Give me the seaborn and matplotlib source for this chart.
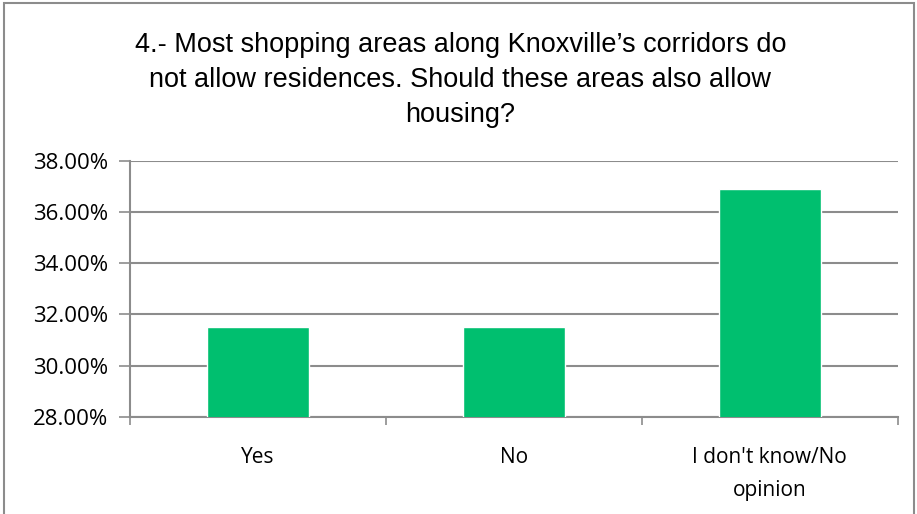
import matplotlib
matplotlib.use("Agg")
import matplotlib.pyplot as plt
import matplotlib.ticker as mticker
from matplotlib.patches import Rectangle
import seaborn as sns
import pandas as pd

TITLE = ("4.- Most shopping areas along Knoxville\u2019s corridors do\n"
         "not allow residences. Should these areas also allow\n"
         "housing?")
categories = ["Yes", "No", "I don't know/No\nopinion"]
shares = [31.5, 31.5, 36.92]  # percent of responses
y_ticks = [28, 30, 32, 34, 36, 38]

BAR_COLOR = "#00BF6F"
GRID_COLOR = "#8C8C8C"

sns.set_style("white")
plt.rcParams["font.family"] = ["Open Sans", "DejaVu Sans"]
plt.rcParams["text.color"] = "black"
plt.rcParams["xtick.labelcolor"] = "black"
plt.rcParams["ytick.labelcolor"] = "black"

df = pd.DataFrame({"answer": categories, "share": shares})

fig = plt.figure(figsize=(9.17, 5.14), dpi=100)
ax = fig.add_axes([0.1418, 0.1893, 0.979 - 0.1418, 0.687 - 0.1893])

sns.barplot(data=df, x="answer", y="share", color=BAR_COLOR, width=0.4,
            saturation=1, ax=ax, zorder=3)

ax.set_ylim(y_ticks[0], y_ticks[-1])
ax.set_xlim(-0.5, len(categories) - 0.5)
ax.set_yticks(y_ticks)
ax.yaxis.set_major_formatter(mticker.FuncFormatter(lambda v, _: f"{v:.2f}%"))
ax.grid(axis="y", color=GRID_COLOR, linewidth=1.5, zorder=0)
ax.set_axisbelow(True)
ax.set_xlabel("")
ax.set_ylabel("")

for side in ["top", "right"]:
    ax.spines[side].set_visible(False)
for side in ["left", "bottom"]:
    ax.spines[side].set_color(GRID_COLOR)
    ax.spines[side].set_linewidth(1.5)

ax.tick_params(axis="y", length=8, width=1.2, color=GRID_COLOR,
               labelsize=16, pad=8, left=True)
ax.tick_params(axis="x", which="major", length=0, labelsize=15, pad=22)
ax.set_xticks([i - 0.5 for i in range(len(categories) + 1)], minor=True)
ax.tick_params(axis="x", which="minor", length=6, width=1.2,
               color=GRID_COLOR, bottom=True)
for lbl in ax.get_xticklabels():
    lbl.set_linespacing(1.75)

fig.text(0.502, 0.844, TITLE, ha="center", va="center", fontsize=19.5,
         family=["Liberation Sans", "DejaVu Sans"], linespacing=1.45)

# outer chart border (bottom edge falls outside the image)
fig.patches.append(Rectangle((4 / 917, -0.05), 910 / 917, 1.05 - 3 / 514,
                             transform=fig.transFigure, fill=False,
                             edgecolor="#8C8C8C", linewidth=1.5))

fig.savefig("out.png", dpi=100)
